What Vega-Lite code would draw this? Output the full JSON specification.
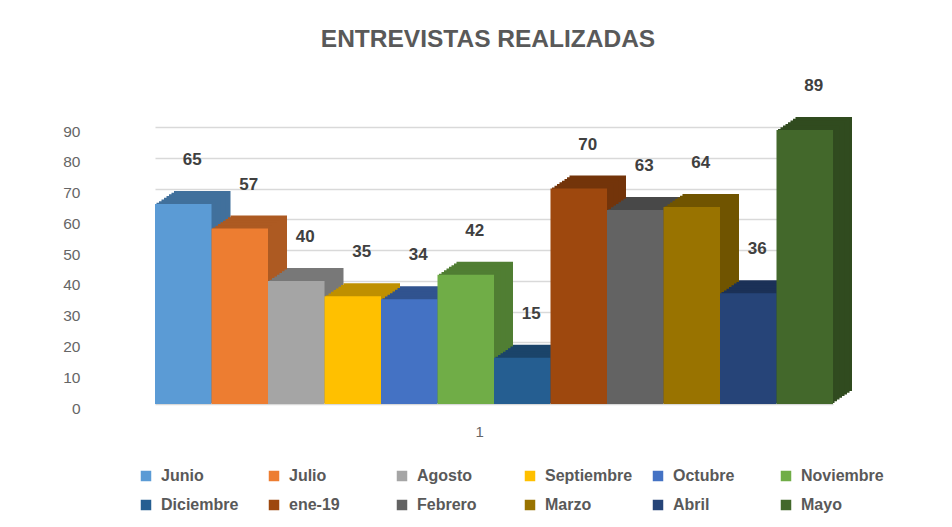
{
  "$schema": "https://vega.github.io/schema/vega-lite/v6.json",
  "width": 810,
  "height": 277,
  "autosize": "none",
  "padding": {"left": 100, "top": 127, "right": 42, "bottom": 123},
  "background": "white",
  "config": {
    "font": "Liberation Sans",
    "view": {"stroke": null}
  },
  "title": {
    "text": "ENTREVISTAS REALIZADAS",
    "fontSize": 24.5,
    "fontWeight": "bold",
    "color": "#595959",
    "font": "Liberation Sans",
    "anchor": "middle",
    "baseline": "alphabetic",
    "offset": 6,
    "dx": -17
  },
  "data": {
    "values": [
      {"mes": "Junio", "valor": 65},
      {"mes": "Julio", "valor": 57},
      {"mes": "Agosto", "valor": 40},
      {"mes": "Septiembre", "valor": 35},
      {"mes": "Octubre", "valor": 34},
      {"mes": "Noviembre", "valor": 42},
      {"mes": "Diciembre", "valor": 15},
      {"mes": "ene-19", "valor": 70},
      {"mes": "Febrero", "valor": 63},
      {"mes": "Marzo", "valor": 64},
      {"mes": "Abril", "valor": 36},
      {"mes": "Mayo", "valor": 89}
    ]
  },
  "encoding": {
    "x": {
      "field": "mes",
      "type": "nominal",
      "sort": null,
      "scale": {"paddingInner": 0, "paddingOuter": 0, "range": [55, 733]},
      "axis": {
        "title": null,
        "labelAngle": 0,
        "domain": false,
        "ticks": false,
        "grid": false,
        "labelPadding": 20,
        "labelExpr": "datum.value == 'Noviembre' ? '1' : ''",
        "labelOffset": 14,
        "labelColor": "#666666",
        "labelFontSize": 15
      }
    },
    "y": {
      "field": "valor",
      "type": "quantitative",
      "scale": {"domain": [0, 90], "nice": false},
      "axis": {
        "title": null,
        "values": [0, 10, 20, 30, 40, 50, 60, 70, 80, 90],
        "domain": false,
        "ticks": false,
        "labelPadding": 20,
        "labelOffset": 4,
        "labelColor": "#666666",
        "labelFontSize": 15.5,
        "gridColor": "#d9d9d9",
        "gridWidth": 1.5
      }
    }
  },
  "layer": [
    {
      "mark": {"type": "bar", "xOffset": 19, "x2Offset": 19, "yOffset": -13, "y2Offset": -13},
      "encoding": {
        "color": {
          "field": "mes", "type": "nominal", "sort": null, "legend": null,
          "scale": {
            "domain": ["Junio", "Julio", "Agosto", "Septiembre", "Octubre", "Noviembre", "Diciembre", "ene-19", "Febrero", "Marzo", "Abril", "Mayo"],
            "range": ["#41709c", "#ad5a22", "#787878", "#bf9000", "#31538f", "#507e33", "#1b446a", "#73340a", "#484848", "#705400", "#1b3157", "#304b1f"]
          }
        }
      }
    },
    {
      "mark": {"type": "bar", "xOffset": 16.5, "x2Offset": 16.5, "yOffset": -11.3, "y2Offset": -11.3},
      "encoding": {
        "color": {
          "field": "mes", "type": "nominal", "sort": null, "legend": null,
          "scale": {
            "domain": ["Junio", "Julio", "Agosto", "Septiembre", "Octubre", "Noviembre", "Diciembre", "ene-19", "Febrero", "Marzo", "Abril", "Mayo"],
            "range": ["#41709c", "#ad5a22", "#787878", "#bf9000", "#31538f", "#507e33", "#1b446a", "#73340a", "#484848", "#705400", "#1b3157", "#304b1f"]
          }
        }
      }
    },
    {
      "mark": {"type": "bar", "xOffset": 14, "x2Offset": 14, "yOffset": -9.6, "y2Offset": -9.6},
      "encoding": {
        "color": {
          "field": "mes", "type": "nominal", "sort": null, "legend": null,
          "scale": {
            "domain": ["Junio", "Julio", "Agosto", "Septiembre", "Octubre", "Noviembre", "Diciembre", "ene-19", "Febrero", "Marzo", "Abril", "Mayo"],
            "range": ["#41709c", "#ad5a22", "#787878", "#bf9000", "#31538f", "#507e33", "#1b446a", "#73340a", "#484848", "#705400", "#1b3157", "#304b1f"]
          }
        }
      }
    },
    {
      "mark": {"type": "bar", "xOffset": 11.5, "x2Offset": 11.5, "yOffset": -7.9, "y2Offset": -7.9},
      "encoding": {
        "color": {
          "field": "mes", "type": "nominal", "sort": null, "legend": null,
          "scale": {
            "domain": ["Junio", "Julio", "Agosto", "Septiembre", "Octubre", "Noviembre", "Diciembre", "ene-19", "Febrero", "Marzo", "Abril", "Mayo"],
            "range": ["#41709c", "#ad5a22", "#787878", "#bf9000", "#31538f", "#507e33", "#1b446a", "#73340a", "#484848", "#705400", "#1b3157", "#304b1f"]
          }
        }
      }
    },
    {
      "mark": {"type": "bar", "xOffset": 9, "x2Offset": 9, "yOffset": -6.2, "y2Offset": -6.2},
      "encoding": {
        "color": {
          "field": "mes", "type": "nominal", "sort": null, "legend": null,
          "scale": {
            "domain": ["Junio", "Julio", "Agosto", "Septiembre", "Octubre", "Noviembre", "Diciembre", "ene-19", "Febrero", "Marzo", "Abril", "Mayo"],
            "range": ["#41709c", "#ad5a22", "#787878", "#bf9000", "#31538f", "#507e33", "#1b446a", "#73340a", "#484848", "#705400", "#1b3157", "#304b1f"]
          }
        }
      }
    },
    {
      "mark": {"type": "bar", "xOffset": 6.5, "x2Offset": 6.5, "yOffset": -4.5, "y2Offset": -4.5},
      "encoding": {
        "color": {
          "field": "mes", "type": "nominal", "sort": null, "legend": null,
          "scale": {
            "domain": ["Junio", "Julio", "Agosto", "Septiembre", "Octubre", "Noviembre", "Diciembre", "ene-19", "Febrero", "Marzo", "Abril", "Mayo"],
            "range": ["#41709c", "#ad5a22", "#787878", "#bf9000", "#31538f", "#507e33", "#1b446a", "#73340a", "#484848", "#705400", "#1b3157", "#304b1f"]
          }
        }
      }
    },
    {
      "mark": {"type": "bar", "xOffset": 4, "x2Offset": 4, "yOffset": -2.8, "y2Offset": -2.8},
      "encoding": {
        "color": {
          "field": "mes", "type": "nominal", "sort": null, "legend": null,
          "scale": {
            "domain": ["Junio", "Julio", "Agosto", "Septiembre", "Octubre", "Noviembre", "Diciembre", "ene-19", "Febrero", "Marzo", "Abril", "Mayo"],
            "range": ["#41709c", "#ad5a22", "#787878", "#bf9000", "#31538f", "#507e33", "#1b446a", "#73340a", "#484848", "#705400", "#1b3157", "#304b1f"]
          }
        }
      }
    },
    {
      "mark": {"type": "bar", "xOffset": 1.5, "x2Offset": 1.5, "yOffset": -1.1, "y2Offset": -1.1},
      "encoding": {
        "color": {
          "field": "mes", "type": "nominal", "sort": null, "legend": null,
          "scale": {
            "domain": ["Junio", "Julio", "Agosto", "Septiembre", "Octubre", "Noviembre", "Diciembre", "ene-19", "Febrero", "Marzo", "Abril", "Mayo"],
            "range": ["#41709c", "#ad5a22", "#787878", "#bf9000", "#31538f", "#507e33", "#1b446a", "#73340a", "#484848", "#705400", "#1b3157", "#304b1f"]
          }
        }
      }
    },
    {
      "mark": {"type": "bar"},
      "encoding": {
        "color": {
          "field": "mes", "type": "nominal", "sort": null,
          "scale": {
            "domain": ["Junio", "Julio", "Agosto", "Septiembre", "Octubre", "Noviembre", "Diciembre", "ene-19", "Febrero", "Marzo", "Abril", "Mayo"],
            "range": ["#5B9BD5", "#ED7D31", "#A5A5A5", "#FFC000", "#4472C4", "#70AD47", "#255E91", "#9E480E", "#636363", "#997300", "#264478", "#43682B"]
          },
          "legend": {
            "title": null,
            "orient": "none",
            "legendX": 38,
            "legendY": 341,
            "direction": "horizontal",
            "columns": 6,
            "gridAlign": "all",
            "columnPadding": 17,
            "rowPadding": 13,
            "symbolType": "square",
            "symbolSize": 110,
            "symbolStrokeWidth": 0,
            "labelOffset": 7,
            "labelFontSize": 16,
            "labelFontWeight": "bold",
            "labelColor": "#595959",
            "labelFont": "Liberation Sans"
          }
        }
      }
    },
    {
      "mark": {"type": "text", "dx": 9, "dy": -44, "fontSize": 17, "fontWeight": "bold", "color": "#404040", "baseline": "middle"},
      "encoding": {
        "text": {"field": "valor", "type": "quantitative"}
      }
    }
  ],
  "resolve": {"scale": {"color": "independent"}}
}
